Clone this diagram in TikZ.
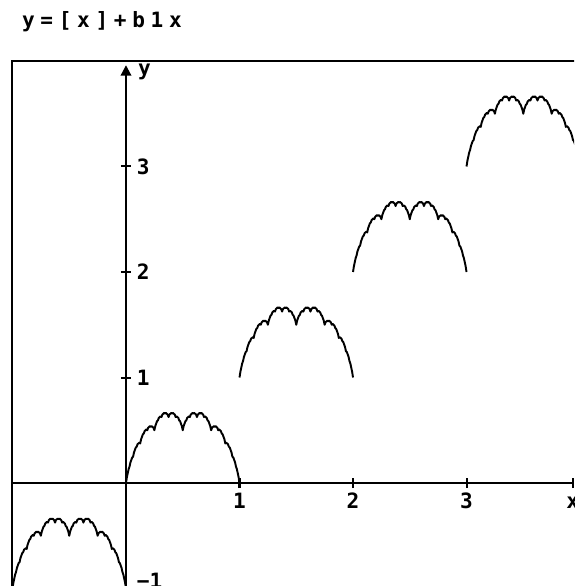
\documentclass[tikz,border=0pt]{standalone}
\usepackage{fontspec}
\usetikzlibrary{arrows.meta}
\newfontfamily\pixfont{DejaVu Sans Mono}
\newfontfamily\titlefont[LetterSpace=27]{DejaVu Sans Mono}

\begin{document}
\begin{tikzpicture}[x=2.27cm,y=2.11cm,
  declare function={saw(\t)=abs(\t-round(\t));
    tak(\t)=saw(\t)+saw(2*\t)/2+saw(4*\t)/4+saw(8*\t)/8+saw(16*\t)/16+saw(32*\t)/32+saw(64*\t)/64;},
  every node/.style={font=\pixfont\bfseries\fontsize{12}{12}\selectfont,inner sep=0pt,outer sep=0pt},
  axis/.style={line width=1.15pt},
  curve/.style={line width=1.1pt,line join=round},
  xlab/.style={anchor=base,yshift=-0.5cm},
  ylab/.style={right=0.22cm}]
  \useasboundingbox (-1.110,-0.976) rectangle (3.947,4.578);
  \clip (-1.110,-0.976) rectangle (3.947,4.578);
  \coordinate (O) at (0,0); \coordinate (xend) at (3.935,0); \coordinate (ytop) at (0,3.96);
  \coordinate (xstart) at (-1,0); \coordinate (ybot) at (0,-1.2);
  % screen frame
  \draw[axis] (-1,-1.2) rectangle (4.3,4);
  % axes
  \draw[axis] (xstart)--(xend);
  \draw[axis,-{Triangle[length=6pt,width=6pt]}] (ybot)--(ytop);
  \draw[axis] (xend) ++(0,-0.1cm)--++(0,0.2cm);
  \foreach \k in {1,2,3}{
    \draw[axis] (\k,0) ++(0,-0.1cm)--++(0,0.2cm);
    \draw[axis] (0,\k) ++(-0.1cm,0)--++(0.2cm,0);
  }
  % y=[x]+b(x), one piece per unit
  \foreach \k [evaluate=\k as \kk using int(\k+1)] in {-1,...,3}
    \draw[curve] plot[domain=\k:\kk,samples=129] (\x,{\k+tak(\x)});
  \node[anchor=base west] (title) at (-0.916,4.313) {\titlefont\bfseries\fontsize{12}{12}\selectfont y=[x]+b1x};
  \node[anchor=base west] (ylabel) at (0.106,3.858) {y};
  \node[xlab] (xone) at (1,0) {1};
  \node[xlab] (xtwo) at (2,0) {2};
  \node[xlab] (xthree) at (3,0) {3};
  \node[xlab] (xlabel) at (xend) {x};
  \node[ylab] (yone) at (0,1) {1};
  \node[ylab] (ytwo) at (0,2) {2};
  \node[ylab] (ythree) at (0,3) {3};
  \node[ylab] (ymone) at (0,-0.93) {−1};
\end{tikzpicture}
\end{document}
